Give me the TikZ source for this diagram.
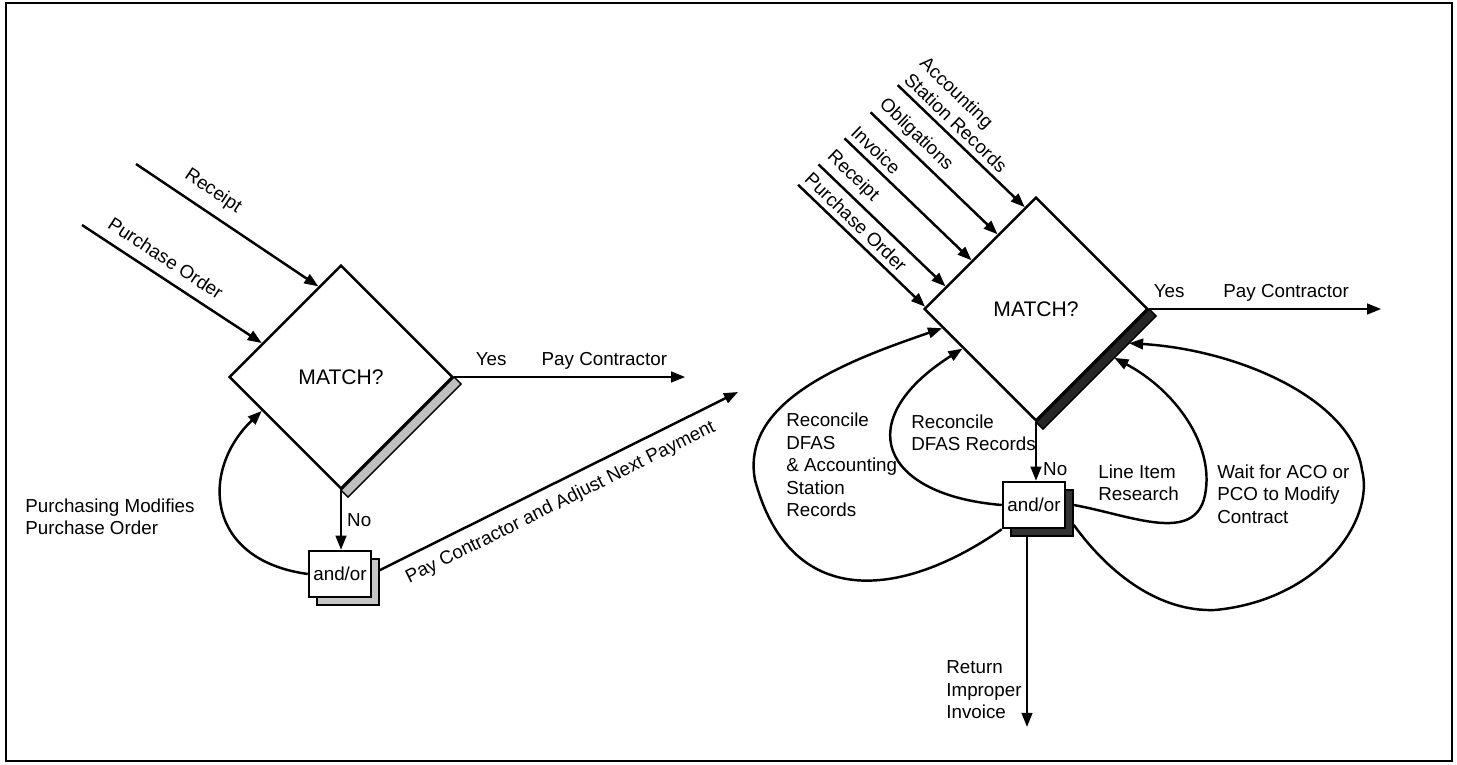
\documentclass[tikz,border=0pt]{standalone}
\usepackage{fontspec}
\setmainfont{Liberation Sans}
\usepackage{tikz}
\usetikzlibrary{arrows.meta,shapes.geometric,calc,positioning}

\begin{document}
\begin{tikzpicture}[
            x=0.02cm,
            y=-0.02cm,
            every node/.style={
                    font=\fontsize{10.7}{12.8}\selectfont,
                    inner sep=0pt
                },
            decision/.style={
                    diamond,
                    draw=black,
                    line width=1.4pt,
                    minimum size=4.48cm,
                    font=\fontsize{12}{14}\selectfont
                },
            junction box/.style={
                    draw=black,
                    fill=white,
                    line width=1.4pt,
                    minimum width=1.24cm,
                    minimum height=0.92cm
                },
            junction shadow/.style={
                    junction box,
                    line width=0.8pt
                },
            flow line/.style={
                    draw=black,
                    line width=1.4pt,
                    -{Triangle[length=8pt,width=6pt]}
                },
            slope label/.style={
                    sloped,
                    inner xsep=0pt,
                    inner ysep=3pt
                },
            note label/.style={
                    align=left,
                    anchor=west
                },
            side strip/.style={
                    draw=black,
                    line width=0.8pt
                }
        ]

        % Frame
        \useasboundingbox (0,0) rectangle (1457,764);
        \draw[line width=1pt] (6,3) rectangle (1452,761);

        % Left decision
        \node[decision] (L) at (341,377) {MATCH?};
        \coordinate (Ls1) at ($(L.east)+(7,7)$);
        \coordinate (Ls2) at ($(L.south)+(7,7)$);

        % Left inputs
        \coordinate (Lrc-start) at (136,164);
        \coordinate (Lpo-start) at (82,225);
        \draw[flow line] (Lrc-start) -- ($(L.west)!0.8!(L.north)$)
            node[slope label, pos=0.36, above=0.1cm] {Receipt};
        \draw[flow line] (Lpo-start) -- ($(L.west)!0.3!(L.north)$)
            node[slope label, pos=0.41, above=0.1cm] {Purchase Order};

        % Left yes
        \coordinate (Lyes) at ($(L.east)+(231,0)$);
        \draw[flow line] (L.east) -- (Lyes)
            node[pos=0.16, anchor=base, yshift=0.24cm] {Yes}
            node[pos=0.65, anchor=base, yshift=0.24cm] {Pay Contractor};
        \draw[side strip, fill=gray!50] (L.east) -- (L.south) -- (Ls2) -- (Ls1) -- cycle;

        % Left junction
        \node[junction shadow, fill=gray!45] (LBs) at (348,582) {};
        \node[junction box] (LB) at (340,574) {and/or};
        \draw[flow line] (L.south) -- (L.south |- LB.north)
            node[midway, right=0.1cm] {No};

        % Left outputs
        \coordinate (Ladj) at (738,392);
        \draw[flow line] ($(LBs.north east)!0.25!(LBs.south east)$) -- (Ladj)
            node[slope label, pos=0.48, below=0.1cm] {Pay Contractor and Adjust Next Payment};
        \draw[flow line] (LB.west) .. controls (205,560) and (200,470) .. ($(L.west)!0.3!(L.south)$);
        \node[note label] (Lmod) at (25,517) {Purchasing Modifies\\Purchase Order};

        % Right decision
        \node[decision] (R) at (1036,309) {MATCH?};
        \coordinate (Rs1) at ($(R.east)+(7,7)$);
        \coordinate (Rs2) at ($(R.south)+(7,7)$);

        % Right inputs
        \foreach \f/\n/\txt in {0.02/po/{Purchase Order}, 0.2/rc/Receipt, 0.43/iv/Invoice, 0.66/ob/Obligations, 0.9/as/{Accounting\\Station Records}} {
                \coordinate (R\n-end) at ($(R.west)!\f!(R.north)$);
                \coordinate (R\n-start) at ($(R\n-end)+(-127,-122)$);
                \draw[flow line] (R\n-start) -- (R\n-end)
                    node[slope label, pos=0, anchor=south west, align=left] {\txt};
            }

        % Right yes
        \coordinate (Ryes) at ($(R.east)+(232,0)$);
        \draw[flow line] (R.east) -- (Ryes)
            node[pos=0.086, anchor=base, yshift=0.24cm] {Yes}
            node[pos=0.59, anchor=base, yshift=0.24cm] {Pay Contractor};
        \draw[side strip, fill=black!85] (R.east) -- (R.south) -- (Rs2) -- (Rs1) -- cycle;

        % Right junction
        \node[junction shadow, fill=black!80] (RBs) at (1042,513) {};
        \node[junction box] (RB) at (1034,505) {and/or};
        \draw[flow line] (R.south) -- (R.south |- RB.north)
            node[pos=0.8, right=0.12cm] {No};

        % Return
        \coordinate (Rret) at (1027,727);
        \draw[flow line] (Rret |- RBs.south) -- (Rret);
        \node[note label] (Rinv) at (946,690) {Return\\Improper\\Invoice};

        % Loops back to the match
        \draw[flow line] (RB.south west) .. controls (900,600) and (790,610) .. (755,480)
            .. controls (740,400) and (850,360) .. ($(R.west)!0.17!(R.south)$);
        \draw[flow line] (RB.west) .. controls (880,495) and (850,420) .. ($(R.west)!0.35!(R.south)$);
        \draw[flow line] (RBs.east |- RB.east) .. controls (1130,515) and (1195,545) .. (1205,495)
            .. controls (1215,445) and (1175,390) .. ($(Rs1)!0.37!(Rs2)$);
        \draw[flow line] ($(RBs.east)!0.5!(RBs.south east)$) .. controls (1110,575) and (1160,612) .. (1215,610)
            .. controls (1320,600) and (1375,520) .. (1362,470)
            .. controls (1352,400) and (1240,350) .. ($(Rs1)!0.24!(Rs2)$);

        % Loop labels
        \node[note label] (Rrec1) at (786,465) {Reconcile\\DFAS\\\& Accounting\\Station\\Records};
        \node[note label] (Rrec2) at (911,433) {Reconcile\\DFAS Records};
        \node[note label] (Rline) at (1098,483) {Line Item\\Research};
        \node[note label] (Rwait) at (1217,494) {Wait for ACO or\\PCO to Modify\\Contract};

    \end{tikzpicture}
\end{document}
